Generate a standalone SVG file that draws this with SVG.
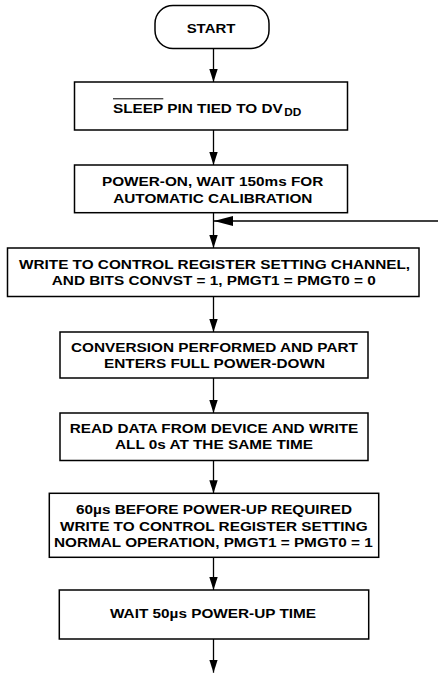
<svg xmlns="http://www.w3.org/2000/svg" width="438" height="673" viewBox="0 0 438 673">
<style>
.box{fill:#fff;stroke:#000;stroke-width:1.5}
.ln{fill:none;stroke:#000;stroke-width:1.3}
.t{font-family:"Liberation Sans",Arial,Helvetica,sans-serif;font-weight:bold;font-size:13px;fill:#000;text-anchor:middle}
.s{text-anchor:start}
</style>
<defs>
<marker id="ah" markerUnits="userSpaceOnUse" markerWidth="14" markerHeight="9" refX="13" refY="4.2" orient="auto"><path d="M0,0 L13,4.2 L0,8.4 z" fill="#000"/></marker>
<marker id="ahL" markerUnits="userSpaceOnUse" markerWidth="20" markerHeight="11" refX="19" refY="5" orient="auto"><path d="M0,0 L19,5 L0,10 z" fill="#000"/></marker>
</defs>
<rect width="438" height="673" fill="#fff"/>
<g id="connectors">
<line class="ln" x1="213.5" y1="49" x2="213.5" y2="82" marker-end="url(#ah)"/>
<line class="ln" x1="213.5" y1="130" x2="213.5" y2="165" marker-end="url(#ah)"/>
<line class="ln" x1="213.5" y1="213" x2="213.5" y2="248" marker-end="url(#ah)"/>
<line class="ln" x1="438" y1="221" x2="214" y2="221" marker-end="url(#ahL)"/>
<line class="ln" x1="213.5" y1="297" x2="213.5" y2="332" marker-end="url(#ah)"/>
<line class="ln" x1="213.5" y1="378" x2="213.5" y2="413" marker-end="url(#ah)"/>
<line class="ln" x1="213.5" y1="460.5" x2="213.5" y2="493.3" marker-end="url(#ah)"/>
<line class="ln" x1="213.5" y1="557.3" x2="213.5" y2="590" marker-end="url(#ah)"/>
<line class="ln" x1="213.5" y1="639" x2="213.5" y2="672.7" marker-end="url(#ah)"/>
</g>
<g id="start">
<rect class="box" x="155" y="5.5" width="114" height="43" rx="18" ry="18"/>
<text class="t" transform="matrix(1.15 0 0 1 211 33.3)">START</text>
</g>
<g id="sleep">
<rect class="box" x="74.5" y="82" width="273" height="48"/>
<text class="t s" transform="matrix(1.18 0 0 1 113 112.8)">SLEEP PIN TIED TO DV</text>
<text class="t s" style="font-size:10px" transform="matrix(1.18 0 0 1 284.3 116.3)">DD</text>
<line x1="113" y1="98.8" x2="163.3" y2="98.8" stroke="#000" stroke-width="1"/>
</g>
<g id="poweron">
<rect class="box" x="74.5" y="165" width="273" height="47.7"/>
<text class="t" transform="matrix(1.18 0 0 1 212.6 186.3)">POWER-ON, WAIT 150ms FOR</text>
<text class="t" transform="matrix(1.18 0 0 1 212.8 202.7)">AUTOMATIC CALIBRATION</text>
</g>
<g id="writectrl">
<rect class="box" x="7.5" y="248" width="411.5" height="48.5"/>
<text class="t" transform="matrix(1.18 0 0 1 214.5 268.7)">WRITE TO CONTROL REGISTER SETTING CHANNEL,</text>
<text class="t" transform="matrix(1.18 0 0 1 213.8 285.2)">AND BITS CONVST = 1, PMGT1 = PMGT0 = 0</text>
</g>
<g id="conversion">
<rect class="box" x="60" y="332" width="308" height="46"/>
<text class="t" transform="matrix(1.18 0 0 1 214.5 351.7)">CONVERSION PERFORMED AND PART</text>
<text class="t" transform="matrix(1.18 0 0 1 214.5 368.2)">ENTERS FULL POWER-DOWN</text>
</g>
<g id="readdata">
<rect class="box" x="60" y="413" width="308" height="47.5"/>
<text class="t" transform="matrix(1.18 0 0 1 214 433.3)">READ DATA FROM DEVICE AND WRITE</text>
<text class="t" transform="matrix(1.18 0 0 1 214 449.3)">ALL 0s AT THE SAME TIME</text>
</g>
<g id="powerup">
<rect class="box" x="49.3" y="493.3" width="329.4" height="64"/>
<text class="t" transform="matrix(1.18 0 0 1 214 514)">60µs BEFORE POWER-UP REQUIRED</text>
<text class="t" transform="matrix(1.18 0 0 1 213.8 530.7)">WRITE TO CONTROL REGISTER SETTING</text>
<text class="t" transform="matrix(1.18 0 0 1 213.3 547.3)">NORMAL OPERATION, PMGT1 = PMGT0 = 1</text>
</g>
<g id="wait">
<rect class="box" x="59.3" y="590" width="309.4" height="49"/>
<text class="t" transform="matrix(1.18 0 0 1 213 617.7)">WAIT 50µs POWER-UP TIME</text>
</g>
</svg>
